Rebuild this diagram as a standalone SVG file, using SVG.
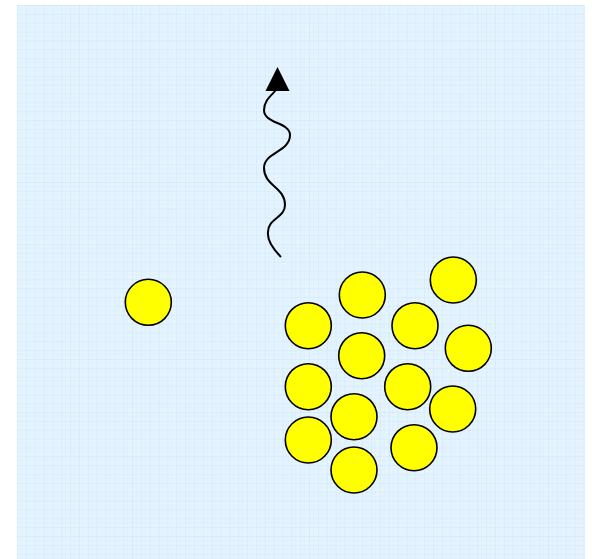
<svg xmlns="http://www.w3.org/2000/svg" width="592" height="559" viewBox="0 0 592 559">
<defs>
<pattern id="grid" x="17" y="5" width="8.85" height="8.85" patternUnits="userSpaceOnUse">
<rect width="8.85" height="8.85" fill="#e6f4fe"/>
<path d="M0,4.4 H8.85 M4.4,0 V8.85" stroke="#dcefff" stroke-width="0.6" fill="none"/>
<path d="M0,0 H8.85 M0,0 V8.85" stroke="#c9e6fd" stroke-width="1" fill="none"/>
</pattern>
<style>
.ball{fill:#ffff00;stroke:#000;stroke-width:1.6}
.wave{fill:none;stroke:#000;stroke-width:2}
</style>
</defs>
<rect width="592" height="559" fill="#ffffff"/>
<rect x="17" y="5" width="568" height="554" fill="url(#grid)"/>
<g id="connectors">
<path class="wave" d="M281,257 C274,250 267,240 268,232 C268,218 285,218 285,205 C285,187 264,186 264,168 C264,152 290,152 290,135 C290,122 264,124 264,110 C264,100 272,95 276,90"/>
<polygon points="277.5,67 289.5,91 265.5,91" fill="#000"/>
</g>
<g id="single"><circle class="ball" cx="148.3" cy="302.3" r="23"/></g>
<g id="b1"><circle class="ball" cx="453.3" cy="280" r="23"/></g>
<g id="b2"><circle class="ball" cx="362.3" cy="295" r="23"/></g>
<g id="b3"><circle class="ball" cx="308.3" cy="325.7" r="23"/></g>
<g id="b4"><circle class="ball" cx="415" cy="325.7" r="23"/></g>
<g id="b5"><circle class="ball" cx="468.3" cy="348.3" r="23"/></g>
<g id="b6"><circle class="ball" cx="361.7" cy="355.7" r="23"/></g>
<g id="b7"><circle class="ball" cx="308.3" cy="386.7" r="23"/></g>
<g id="b8"><circle class="ball" cx="407.7" cy="386.7" r="23"/></g>
<g id="b9"><circle class="ball" cx="354" cy="416.7" r="23"/></g>
<g id="b10"><circle class="ball" cx="452.7" cy="409" r="23"/></g>
<g id="b11"><circle class="ball" cx="308.3" cy="440" r="23"/></g>
<g id="b12"><circle class="ball" cx="414" cy="447.7" r="23"/></g>
<g id="b13"><circle class="ball" cx="354" cy="470" r="23"/></g>
</svg>
